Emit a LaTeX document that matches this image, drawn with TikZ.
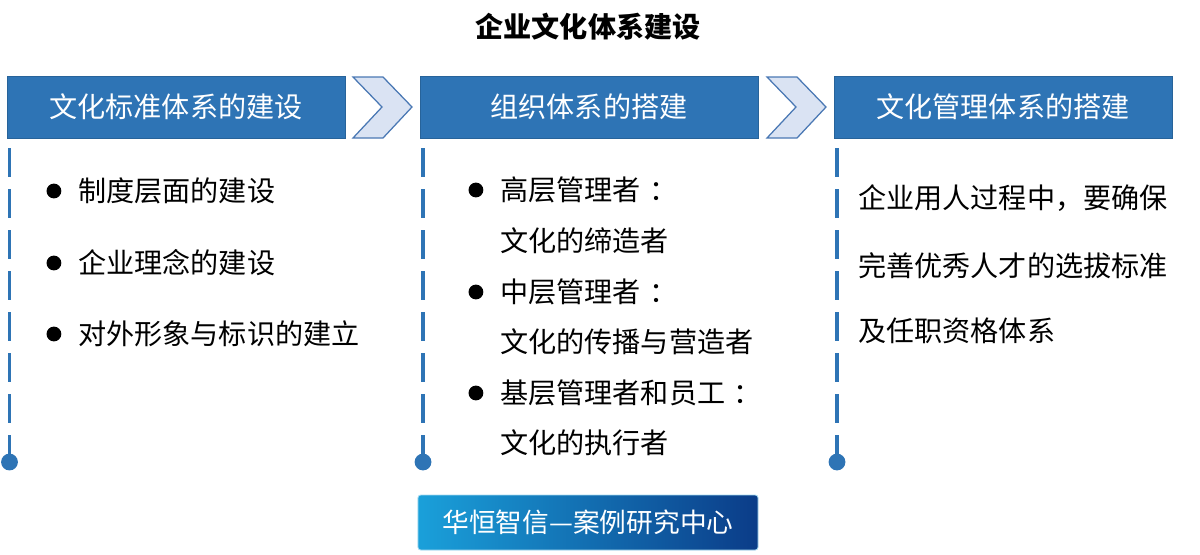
\documentclass[tikz,border=0pt]{standalone}
\usepackage{fontspec}
\usepackage{xcolor}
\usepackage{tikz}
\usetikzlibrary{positioning,calc}
\newfontfamily\cjk{Noto Sans CJK SC}
\definecolor{headblue}{HTML}{2E74B5}
\definecolor{chevfill}{HTML}{DAE3F3}
\definecolor{chevline}{HTML}{4A78B4}
\definecolor{logoleft}{HTML}{1AA0DA}
\definecolor{logoright}{HTML}{0B3C88}
\tikzset{
  headbox/.style={draw=headblue!85!black,fill=headblue,text=white,font=\cjk\fontsize{20}{24}\selectfont,minimum width=8.45cm,minimum height=1.55cm,inner sep=0pt},
  chevron/.style={draw=chevline,fill=chevfill,line width=0.9pt,line join=miter},
  timeline/.style={headblue,line width=2.8pt,dash pattern=on 0.725cm off 0.3cm},
  enddot/.style={circle,fill=headblue,inner sep=0pt,minimum size=0.42cm},
  bulletdot/.style={circle,fill=black,inner sep=0pt,minimum size=0.37cm},
  itemtext/.style={anchor=west,inner sep=0pt,font=\cjk\fontsize{20}{24}\selectfont},
  logobox/.style={draw=logoleft!40!white,line width=0.6pt,rounded corners=2pt,left color=logoleft,right color=logoright,text=white,font=\cjk\fontsize{19}{23}\selectfont,minimum width=8.5cm,minimum height=1.375cm,inner sep=0pt}
}

\begin{document}
\begin{tikzpicture}[x=0.025cm,y=-0.025cm]
  \useasboundingbox (0,0) rectangle (1200,554);
  \node[font=\cjk\bfseries\fontsize{20}{24}\selectfont] (title) at (588,27) {企业文化体系建设};
  % headers
  \node[headbox] (hdA) at (176,107) {文化标准体系的建设};
  \node[headbox] (hdB) at (589,107) {组织体系的搭建};
  \node[headbox] (hdC) at (1003,107) {文化管理体系的搭建};
  \foreach \x in {353,767}
    \draw[chevron] (\x,77) -- ++(30,0) -- ++(29,30) -- ++(-29,31) -- ++(-30,0) -- ++(29,-31) -- cycle;
  % timelines
  \coordinate (topA) at (9.5,148);
  \coordinate (topB) at (423,148);
  \coordinate (topC) at (837,148);
  \node[enddot] (dotA) at (9.5,462) {};
  \node[enddot] (dotB) at (423,462) {};
  \node[enddot] (dotC) at (837,462) {};
  \draw[timeline] (topA) -- (dotA.center);
  \draw[timeline] (topB) -- (dotB.center);
  \draw[timeline] (topC) -- (dotC.center);
  % column A
  \node[itemtext] (itA1) at (78,191) {制度层面的建设};
  \node[itemtext] (itA2) at (78,263) {企业理念的建设};
  \node[itemtext] (itA3) at (78,334) {对外形象与标识的建立};
  \node[bulletdot,left=0.41cm of itA1] (buA1) {};
  \node[bulletdot,left=0.41cm of itA2] (buA2) {};
  \node[bulletdot,left=0.41cm of itA3] (buA3) {};
  % column B
  \node[itemtext] (itB1) at (500,190) {高层管理者\hspace{0.3em}：};
  \node[itemtext] (itB2) at (500,241) {文化的缔造者};
  \node[itemtext] (itB3) at (500,292) {中层管理者\hspace{0.3em}：};
  \node[itemtext] (itB4) at (500,342) {文化的传播与营造者};
  \node[itemtext] (itB5) at (500,393) {基层管理者和员工\hspace{0.3em}：};
  \node[itemtext] (itB6) at (500,443) {文化的执行者};
  \node[bulletdot,left=0.41cm of itB1] (buB1) {};
  \node[bulletdot,left=0.41cm of itB3] (buB3) {};
  \node[bulletdot,left=0.41cm of itB5] (buB5) {};
  % column C
  \node[itemtext] (itC1) at (858,198) {企业用人过程中，要确保};
  \node[itemtext] (itC2) at (858,266) {完善优秀人才的选拔标准};
  \node[itemtext] (itC3) at (858,331) {及任职资格体系};
  % logo
  \node[logobox] (logo) at (588,522.5) {华恒智信—案例研究中心};
\end{tikzpicture}
\end{document}
